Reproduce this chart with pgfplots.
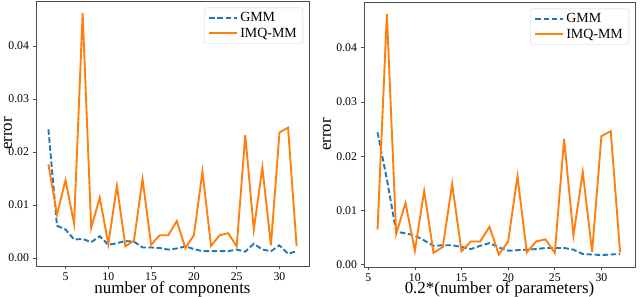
\documentclass[border=0pt]{standalone}
\usepackage{pgfplots}
\pgfplotsset{compat=1.18}
\usepackage{fontspec}
\setmainfont{Liberation Serif}
\definecolor{mplblue}{HTML}{1F77B4}
\definecolor{mplorange}{HTML}{FF7F0E}
\pgfplotsset{
  myaxis/.style={
    scale only axis,
    anchor=south west,
    axis line style={black!70, line width=0.9pt},
    tick style={black!70, line width=0.7pt},
    tick align=outside,
    major tick length=3.5pt,
    xtick pos=bottom, ytick pos=left,
    ymin=-0.0015, ymax=0.0485,
    ytick={0,0.01,0.02,0.03,0.04},
    yticklabels={0.00,0.01,0.02,0.03,0.04},
    xtick={5,10,15,20,25,30},
    scaled y ticks=false,
    /pgf/number format/assume math mode=true,
    tick label style={font=\fontsize{11.8}{13}\selectfont},
    label style={font=\fontsize{17}{19}\selectfont},
    ylabel={error},
    legend style={at={(0.978,0.975)}, anchor=north east, draw=black!18, rounded corners=2pt,
      font=\fontsize{14}{16}\selectfont, inner xsep=4pt, inner ysep=2.5pt, row sep=1pt},
    legend cell align=left,
    legend image code/.code={\draw[##1] (0pt,0pt) -- (28pt,0pt);},
  },
  gmm/.style={mplblue, line width=1.9pt, dash pattern=on 5.5pt off 2.6pt},
  imq/.style={mplorange, line width=1.9pt},
}
\begin{document}
\begin{tikzpicture}[x=1bp,y=1bp]
\begin{axis}[myaxis, at={(36bp,30bp)}, width=273bp, height=265bp,
  xmin=1.55, xmax=33.45, xlabel={number of components},
  ylabel style={at={(axis description cs:-0.118,0.5)}, anchor=north, inner sep=0pt},
  xlabel style={at={(axis description cs:0.5,0)}, anchor=base, inner sep=0pt, yshift=-27bp}]
\addplot[gmm] coordinates {
(3,0.0243) (4,0.0061) (5,0.0054) (6,0.0035) (7,0.0036) (8,0.0030) (9,0.0041) (10,0.0025)
(11,0.0028) (12,0.0032) (13,0.0031) (14,0.0020) (15,0.0020) (16,0.0019) (17,0.0016) (18,0.0018)
(19,0.0022) (20,0.0017) (21,0.0013) (22,0.0013) (23,0.0013) (24,0.0013) (25,0.0016) (26,0.0012)
(27,0.0027) (28,0.0016) (29,0.0013) (30,0.0024) (31,0.0008) (32,0.0013)};
\addlegendentry{GMM}
\addplot[imq] coordinates {
(3,0.0177) (4,0.0082) (5,0.0147) (6,0.0065) (7,0.0462) (8,0.0057) (9,0.0114) (10,0.0026)
(11,0.0136) (12,0.0022) (13,0.0033) (14,0.0149) (15,0.0025) (16,0.0043) (17,0.0043) (18,0.0070)
(19,0.0019) (20,0.0043) (21,0.0163) (22,0.0023) (23,0.0043) (24,0.0047) (25,0.0022) (26,0.0232)
(27,0.0054) (28,0.0171) (29,0.0024) (30,0.0237) (31,0.0246) (32,0.0023)};
\addlegendentry{IMQ-MM}
\end{axis}
\begin{axis}[myaxis, at={(364bp,29bp)}, width=271bp, height=265bp,
  xmin=4.55, xmax=33.6, ymin=-0.0004, ymax=0.0484, xlabel={0.2*(number of parameters)},
  ylabel style={at={(axis description cs:-0.152,0.5)}, anchor=north, inner sep=0pt},
  xlabel style={at={(axis description cs:0.5,0)}, anchor=base, inner sep=0pt, yshift=-26bp}]
\addplot[gmm] coordinates {
(6,0.0244) (7,0.0158) (8,0.0061) (9,0.0058) (10,0.0054) (11,0.0045) (12,0.0035) (13,0.0036)
(14,0.0036) (15,0.0033) (16,0.0029) (17,0.0035) (18,0.0040) (19,0.0032) (20,0.0026) (21,0.0027)
(22,0.0028) (23,0.0029) (24,0.0031) (25,0.0031) (26,0.0031) (27,0.0028) (28,0.0020) (29,0.0019)
(30,0.0018) (31,0.0019) (32,0.0020)};
\addlegendentry{GMM}
\addplot[imq] coordinates {
(6,0.0065) (7,0.0462) (8,0.0057) (9,0.0114) (10,0.0026)
(11,0.0136) (12,0.0022) (13,0.0033) (14,0.0149) (15,0.0025) (16,0.0043) (17,0.0043) (18,0.0070)
(19,0.0019) (20,0.0043) (21,0.0163) (22,0.0023) (23,0.0043) (24,0.0047) (25,0.0022) (26,0.0232)
(27,0.0054) (28,0.0171) (29,0.0024) (30,0.0237) (31,0.0246) (32,0.0023)};
\addlegendentry{IMQ-MM}
\end{axis}
\pgfresetboundingbox
\useasboundingbox (0,0) rectangle (640,296);
\end{tikzpicture}
\end{document}
